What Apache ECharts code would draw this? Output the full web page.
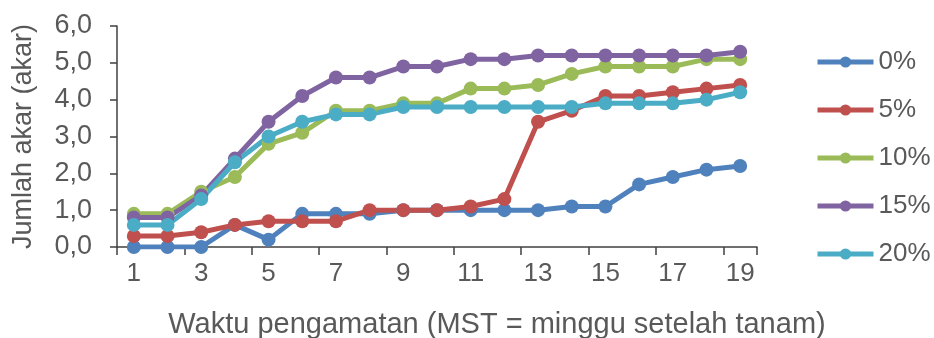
<!DOCTYPE html>
<html>
<head>
<meta charset="utf-8">
<script src="https://cdn.jsdelivr.net/npm/echarts@6/dist/echarts.min.js"></script>
<style>
  html, body { margin: 0; padding: 0; background: #fff; }
  #chart { width: 934px; height: 338px; }
</style>
</head>
<body>
<div id="chart"></div>
<script>
// minggu setelah tanam
const weeks = ['1','2','3','4','5','6','7','8','9','10','11','12','13','14','15','16','17','18','19'];
const seriesNames = ['0%', '5%', '10%', '15%', '20%'];

const s0 = [0, 0, 0, 0.6, 0.2, 0.9, 0.9, 0.9, 1.0, 1.0, 1.0, 1.0, 1.0, 1.1, 1.1, 1.7, 1.9, 2.1, 2.2];
const s5 = [0.3, 0.3, 0.4, 0.6, 0.7, 0.7, 0.7, 1.0, 1.0, 1.0, 1.1, 1.3, 3.4, 3.7, 4.1, 4.1, 4.2, 4.3, 4.4];
const s10 = [0.9, 0.9, 1.5, 1.9, 2.8, 3.1, 3.7, 3.7, 3.9, 3.9, 4.3, 4.3, 4.4, 4.7, 4.9, 4.9, 4.9, 5.1, 5.1];
const s15 = [0.8, 0.8, 1.4, 2.4, 3.4, 4.1, 4.6, 4.6, 4.9, 4.9, 5.1, 5.1, 5.2, 5.2, 5.2, 5.2, 5.2, 5.2, 5.3];
const s20 = [0.6, 0.6, 1.3, 2.3, 3.0, 3.4, 3.6, 3.6, 3.8, 3.8, 3.8, 3.8, 3.8, 3.8, 3.9, 3.9, 3.9, 4.0, 4.2];

const colors = ['#4F81BD', '#C0504D', '#9BBB59', '#8064A2', '#4BACC6'];
const allData = [s0, s5, s10, s15, s20];

const font = '"Liberation Sans", Arial, sans-serif';
const textColor = '#595959';

let chart = echarts.init(document.getElementById('chart'));

let series = seriesNames.map((name, i) => ({
  name: name,
  type: 'line',
  data: allData[i],
  symbol: 'circle',
  symbolSize: 14,
  lineStyle: { width: 5, color: colors[i] },
  itemStyle: { color: colors[i] },
  animation: false
}));

let options = {
  textStyle: { fontFamily: font },
  grid: { left: 117, right: 177, top: 26, bottom: 91, containLabel: false, outerBoundsMode: 'none' },
  legend: {
    orient: 'vertical',
    left: 815,
    top: 48,
    padding: 0,
    itemWidth: 56,
    itemHeight: 14,
    itemGap: 20,
    lineStyle: { width: 5 },
    textStyle: { fontSize: 26, color: textColor, fontFamily: font, lineHeight: 28 },
    data: seriesNames
  },
  xAxis: {
    type: 'category',
    data: weeks,
    boundaryGap: true,
    name: 'Waktu pengamatan (MST = minggu setelah tanam)',
    nameLocation: 'middle',
    nameGap: 63,
    nameTextStyle: { fontSize: 29, color: textColor, fontFamily: font, padding: [0, 0, 0, 120] },
    axisLine: { lineStyle: { color: '#404040', width: 1.5 } },
    axisTick: { show: true, interval: 1, length: 8, lineStyle: { color: '#404040', width: 1.5 } },
    axisLabel: { interval: 1, fontSize: 26, color: textColor, margin: 14, fontFamily: font },
    splitLine: { show: false }
  },
  yAxis: {
    type: 'value',
    min: 0,
    max: 6,
    interval: 1,
    name: 'Jumlah akar (akar)',
    nameLocation: 'middle',
    nameGap: 80,
    nameTextStyle: { fontSize: 27, color: textColor, fontFamily: font },
    axisLine: { show: true, lineStyle: { color: '#404040', width: 1.5 } },
    axisTick: { show: true, length: 7, lineStyle: { color: '#404040', width: 1.5 } },
    axisLabel: {
      fontSize: 27,
      color: textColor,
      margin: 25,
      fontFamily: font,
      formatter: (v) => v.toFixed(1).replace('.', ',')
    },
    splitLine: { show: false }
  },
  series: series,
  animation: false
};

chart.setOption(options);
</script>
</body>
</html>
